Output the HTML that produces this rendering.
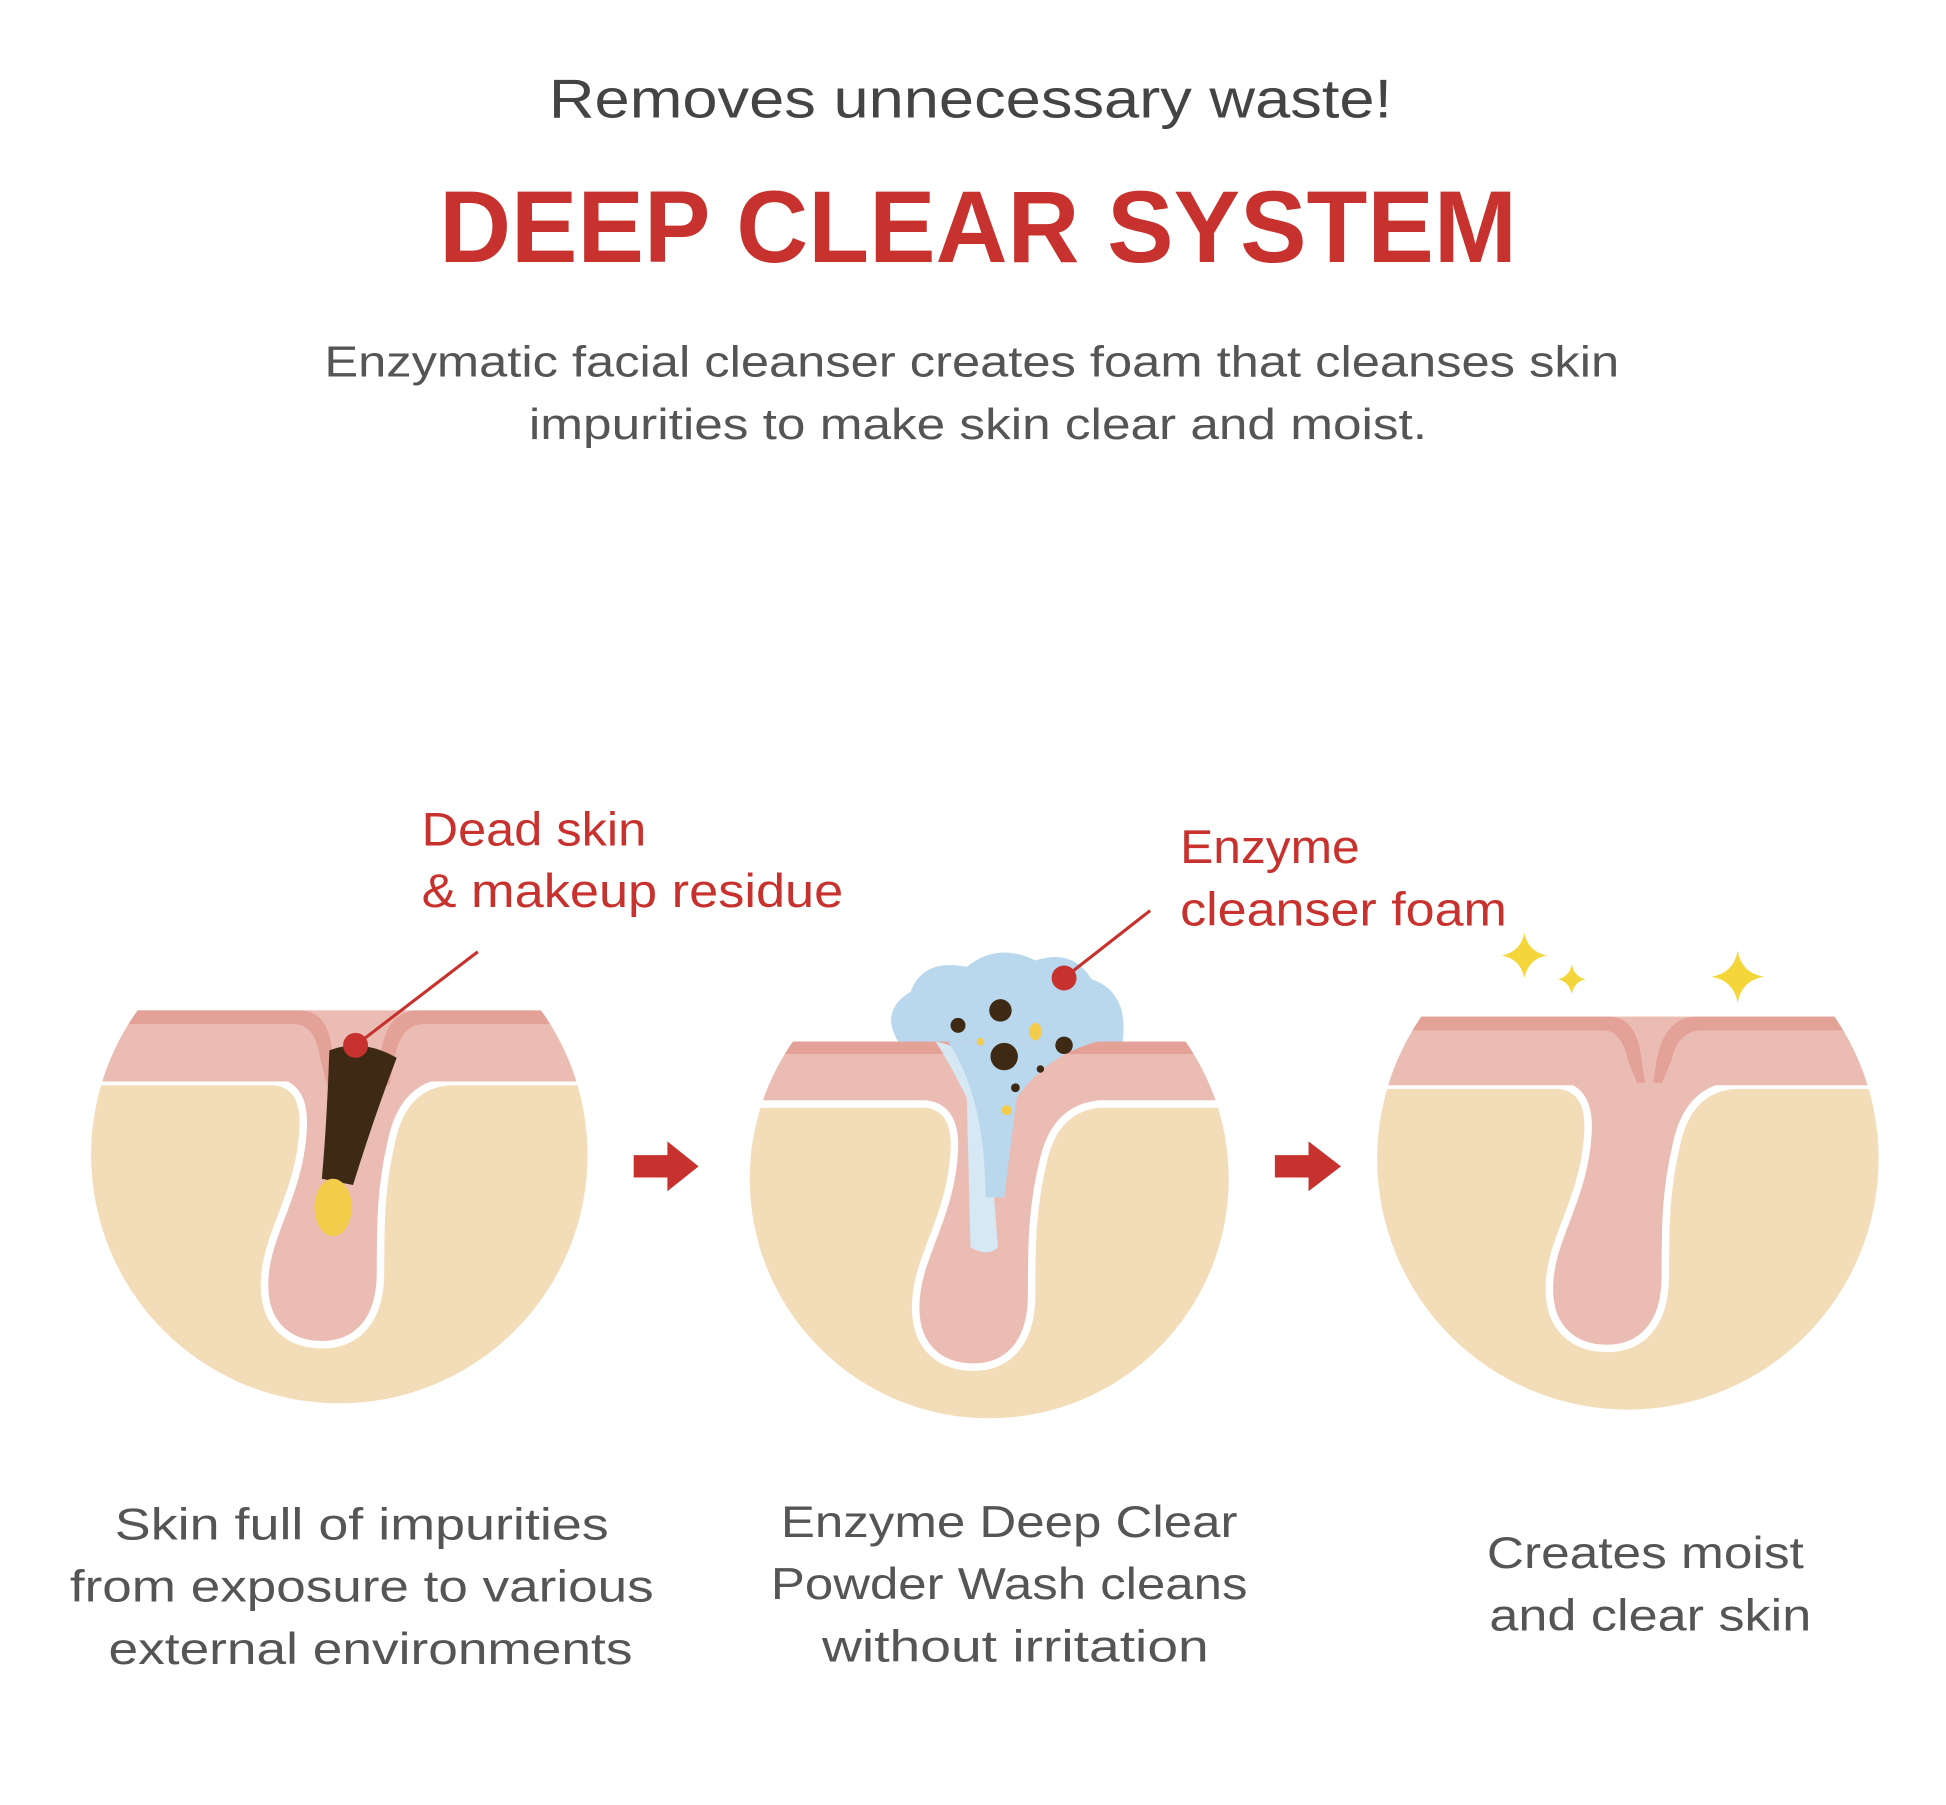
<!DOCTYPE html>
<html><head><meta charset="utf-8"><style>html,body{margin:0;padding:0;background:#fff}svg{display:block}</style></head>
<body>
<svg width="1946" height="1805" viewBox="0 0 1560 1447" xmlns="http://www.w3.org/2000/svg" font-family="Liberation Sans, sans-serif">
<rect width="1560" height="1447" fill="#fff"/>
<text x="778" y="94" text-anchor="middle" font-size="44" fill="#444" textLength="676" lengthAdjust="spacingAndGlyphs">Removes unnecessary waste!</text>
<text x="784" y="210" text-anchor="middle" font-size="82" font-weight="bold" fill="#c8322e" textLength="864" lengthAdjust="spacingAndGlyphs">DEEP CLEAR SYSTEM</text>
<text x="779" y="302" text-anchor="middle" font-size="35" fill="#555" textLength="1038" lengthAdjust="spacingAndGlyphs">Enzymatic facial cleanser creates foam that cleanses skin</text>
<text x="784" y="352" text-anchor="middle" font-size="35" fill="#555" textLength="720" lengthAdjust="spacingAndGlyphs">impurities to make skin clear and moist.</text>

<defs>
<clipPath id="k1"><circle cx="272" cy="926" r="199"/></clipPath>
<clipPath id="k2"><circle cx="793" cy="945" r="192"/></clipPath>
<clipPath id="k3"><circle cx="1305" cy="929" r="201"/></clipPath>
<g id="fol">
<path d="M-200 57 L-40 57 Q-15 60 -17 95 C-20 150 -48 180 -48 220 C-48 255 -25 268 -2 268 C25 268 45 250 45 210 C45 170 45 140 55 100 Q65 60 100 57 L300 57" fill="#ebbcb4" stroke="#fff" stroke-width="6"/>
</g>
</defs>

<!-- circle 1 -->
<g clip-path="url(#k1)">
<rect x="60" y="810" width="420" height="330" fill="#f3dcb8"/>
<use href="#fol" x="260" y="810"/>
<rect x="60" y="810" width="420" height="57" fill="#ebbcb4"/>
<path d="M60 810 H240 Q262 810 266 840 L270 870 L300 870 L306 840 Q312 810 335 810 H480 V821 H340 Q322 821 317 845 L312 870 L262 870 L256 845 Q252 821 235 821 H60Z" fill="#e3a198"/>
<path d="M264 842 Q290 832 318 848 Q300 895 283 950 L258 945 Q262 900 264 842Z" fill="#3e2a14"/>
<ellipse cx="267" cy="968" rx="15" ry="23" fill="#f4cc4c"/>
</g>
<line x1="383" y1="763" x2="285" y2="838" stroke="#c8322e" stroke-width="2.5"/>
<circle cx="285" cy="838" r="10" fill="#c8322e"/>
<text x="338" y="678" font-size="38" fill="#c8322e" textLength="180" lengthAdjust="spacingAndGlyphs">Dead skin</text>
<text x="338" y="727" font-size="38" fill="#c8322e" textLength="338" lengthAdjust="spacingAndGlyphs">&amp; makeup residue</text>

<!-- arrows -->
<path d="M508 926 H535 V915 L560 935 L535 955 V944 H508Z" fill="#c8322e"/>
<path d="M1022 926 H1049 V915 L1075 935 L1049 955 V944 H1022Z" fill="#c8322e"/>

<!-- circle 2 -->
<path d="M720 835 Q705 810 730 795 Q740 768 775 775 Q800 755 830 770 Q860 760 875 785 Q905 795 900 835Z" fill="#b9d8ee"/>
<g clip-path="url(#k2)">
<rect x="590" y="835" width="420" height="320" fill="#f3dcb8"/>
<rect x="590" y="835" width="420" height="52" fill="#ebbcb4"/>
<rect x="590" y="835" width="420" height="10" fill="#e3a198"/>
<use href="#fol" x="782" y="828"/>
<path d="M750 835 Q780 840 790 870 L800 1000 Q792 1008 778 1000 L775 880 Q760 850 750 835Z" fill="#d6e8f4"/>
<path d="M760 835 L880 835 Q840 845 815 880 L805 960 L790 960 Q790 880 760 835Z" fill="#b9d8ee"/>
</g>
<circle cx="802" cy="810" r="9" fill="#3e2a14"/>
<circle cx="768" cy="822" r="6" fill="#3e2a14"/>
<circle cx="805" cy="847" r="11" fill="#3e2a14"/>
<circle cx="853" cy="838" r="7" fill="#3e2a14"/>
<circle cx="834" cy="857" r="3" fill="#3e2a14"/>
<circle cx="814" cy="872" r="3.5" fill="#3e2a14"/>
<ellipse cx="830" cy="827" rx="5" ry="7" fill="#f4cc4c"/>
<circle cx="786" cy="835" r="3" fill="#f4cc4c"/>
<circle cx="807" cy="890" r="4" fill="#f4cc4c"/>
<line x1="922" y1="730" x2="853" y2="784" stroke="#c8322e" stroke-width="2.5"/>
<circle cx="853" cy="784" r="10" fill="#c8322e"/>
<text x="946" y="692" font-size="38" fill="#c8322e" textLength="144" lengthAdjust="spacingAndGlyphs">Enzyme</text>
<text x="946" y="742" font-size="38" fill="#c8322e" textLength="262" lengthAdjust="spacingAndGlyphs">cleanser foam</text>

<!-- circle 3 -->
<g clip-path="url(#k3)">
<rect x="1100" y="815" width="420" height="330" fill="#f3dcb8"/>
<use href="#fol" x="1290" y="813"/>
<rect x="1100" y="815" width="420" height="55" fill="#ebbcb4"/>
<path d="M1100 815 H1290 Q1312 815 1316 850 L1322 890 L1328 850 Q1335 815 1360 815 H1520 V826 H1365 Q1345 826 1340 850 L1322 892 L1305 850 Q1300 826 1285 826 H1100Z" fill="#e3a198"/>
<path d="M1285 868 Q1300 870 1305 900 L1322 895 Q1330 870 1345 868Z" fill="#ebbcb4"/>
</g>
<path d="M1222 748 Q1225 763 1240 766 Q1225 769 1222 784 Q1219 769 1204 766 Q1219 763 1222 748Z" fill="#f5d63a"/>
<path d="M1260 773 Q1262 783 1271 785 Q1262 787 1260 797 Q1258 787 1249 785 Q1258 783 1260 773Z" fill="#f5d63a"/>
<path d="M1393 762 Q1396 780 1414 783 Q1396 786 1393 804 Q1390 786 1372 783 Q1390 780 1393 762Z" fill="#f5d63a"/>

<!-- captions -->
<g font-size="36" fill="#555" text-anchor="middle">
<text x="290" y="1234" textLength="396" lengthAdjust="spacingAndGlyphs">Skin full of impurities</text>
<text x="290" y="1284" textLength="468" lengthAdjust="spacingAndGlyphs">from exposure to various</text>
<text x="297" y="1334" textLength="420" lengthAdjust="spacingAndGlyphs">external environments</text>
<text x="809" y="1232" textLength="366" lengthAdjust="spacingAndGlyphs">Enzyme Deep Clear</text>
<text x="809" y="1282" textLength="382" lengthAdjust="spacingAndGlyphs">Powder Wash cleans</text>
<text x="814" y="1332" textLength="310" lengthAdjust="spacingAndGlyphs">without irritation</text>
<text x="1319" y="1257" textLength="254" lengthAdjust="spacingAndGlyphs">Creates moist</text>
<text x="1323" y="1307" textLength="258" lengthAdjust="spacingAndGlyphs">and clear skin</text>
</g>
</svg>
</body></html>
